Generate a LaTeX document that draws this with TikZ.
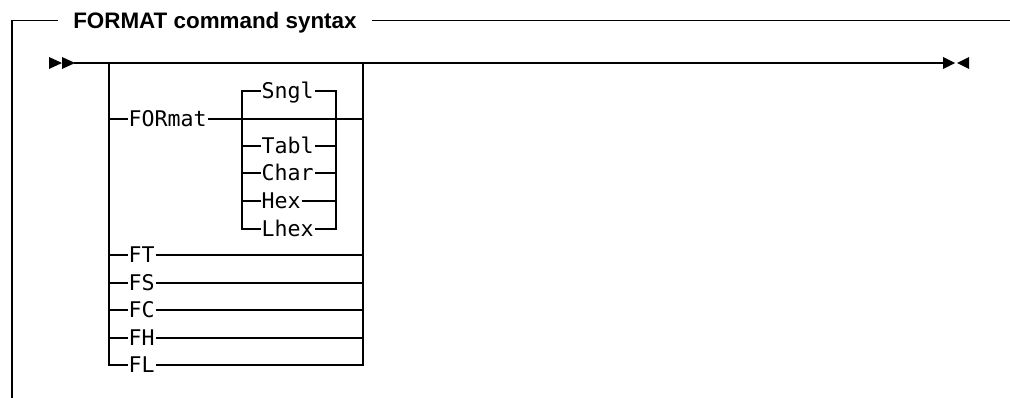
\documentclass[tikz,border=0pt]{standalone}
\usepackage{fontspec}
\setmainfont{Liberation Sans}
\newfontfamily\synmono{DejaVu Sans Mono}
\usetikzlibrary{positioning}

\tikzset{
  rail/.style={line width=1pt, line cap=rect},
  kw/.style={anchor=west, inner xsep=1pt, inner ysep=0pt,
    text height=11.8pt, text depth=0pt,
    font=\synmono\fontsize{16.2}{18}\selectfont},
  headline/.style={anchor=west, inner xsep=12pt, inner ysep=0pt,
    text height=12pt, text depth=0pt,
    font=\bfseries\fontsize{16.8}{20}\selectfont},
}

\begin{document}
\begin{tikzpicture}[x=0.75pt,y=-0.75pt]
	\useasboundingbox (0,0) rectangle (1010,398);
	
	% frame with title
	\node[headline] (title) at (57,20.5) {FORMAT command syntax};
	\coordinate (fr-tl) at (12,20.5);
	\coordinate (fr-tr) at (1010,20.5);
	\coordinate (fr-bl) at (12,398);
	\draw[rail] (title.west) -- (fr-tl) -- (fr-bl);
	\draw[rail] (title.east) -- (fr-tr);
	
	% main line and its end marks
	\coordinate (start) at (75,63);
	\coordinate (stop) at (943,63);
	\draw[rail] (start) -- (stop);
	\fill (49,57) -- (62,63) -- (49,69) -- cycle;
	\fill (62,57) -- (75,63) -- (62,69) -- cycle;
	\fill (943,57) -- (955,63) -- (943,69) -- cycle;
	\fill (969,57) -- (957,63) -- (969,69) -- cycle;
	
	% outer stack
	\coordinate (sL-top) at (109,63);
	\coordinate (sR-top) at (363,63);
	\coordinate (sL-bot) at (109,365);
	\coordinate (sR-bot) at (363,365);
	\draw[rail] (sL-top) -- (sL-bot);
	\draw[rail] (sR-top) -- (sR-bot);
	
	\node[kw] (format) at (127,119) {FORmat};
	\draw[rail] (format.west -| sL-top) -- (format.west);
	\draw[rail] (format.east) -- (format.east -| sR-top);
	
	\foreach \name/\y in {FT/255, FS/283, FC/310, FH/338, FL/365} {
		\node[kw] (row-\name) at (127,\y) {\name};
		\draw[rail] (row-\name.west -| sL-top) -- (row-\name.west);
		\draw[rail] (row-\name.east) -- (row-\name.east -| sR-top);
	}
	
	% inner stack of FORmat
	\coordinate (iL-top) at (242,91);
	\coordinate (iR-top) at (336,91);
	\coordinate (iL-bot) at (242,229);
	\coordinate (iR-bot) at (336,229);
	\draw[rail] (iL-top) -- (iL-bot);
	\draw[rail] (iR-top) -- (iR-bot);
	
	\foreach \name/\y in {Sngl/91, Tabl/146, Char/173, Hex/201, Lhex/229} {
		\node[kw] (opt-\name) at (260,\y) {\name};
		\draw[rail] (opt-\name.west -| iL-top) -- (opt-\name.west);
		\draw[rail] (opt-\name.east) -- (opt-\name.east -| iR-top);
	}
\end{tikzpicture}
\end{document}
